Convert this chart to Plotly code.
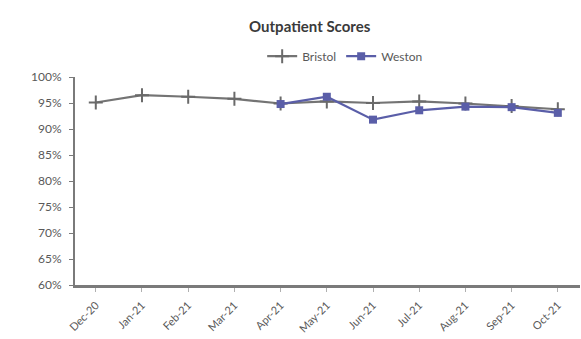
import plotly.graph_objects as go

# Monthly outpatient satisfaction scores (%)
months = ["Dec-20", "Jan-21", "Feb-21", "Mar-21", "Apr-21", "May-21",
          "Jun-21", "Jul-21", "Aug-21", "Sep-21", "Oct-21"]
bristol = [95.1, 96.5, 96.2, 95.8, 94.9, 95.3, 95.0, 95.3, 94.9, 94.4, 93.8]
weston = [None, None, None, None, 94.8, 96.2, 91.8, 93.6, 94.3, 94.2, 93.1]

y_ticks = [60, 65, 70, 75, 80, 85, 90, 95, 100]
y_tick_text = [f"{v}%" for v in y_ticks]

fig = go.Figure()
fig.add_trace(go.Scatter(
    x=months, y=bristol, name="Bristol", mode="lines+markers",
    line=dict(color="#747474", width=2.2),
    marker=dict(symbol="cross-thin-open", size=10, color="#6a6a6a",
                line=dict(width=2, color="#6a6a6a")),
))
fig.add_trace(go.Scatter(
    x=months, y=weston, name="Weston", mode="lines+markers",
    line=dict(color="#5a5ea8", width=2.2),
    marker=dict(symbol="square", size=8, color="#5a5ea8"),
))

fig.update_layout(
    width=581, height=339,
    margin=dict(l=75, r=1, t=77, b=54),
    paper_bgcolor="white", plot_bgcolor="white",
    font=dict(family="Lato, Open Sans, sans-serif", color="#595959", size=11),
    title=dict(text="<b>Outpatient Scores</b>", x=0.533, xanchor="center",
               y=0.92, yanchor="middle",
               font=dict(size=15, color="#3a3a3a")),
    legend=dict(orientation="h", x=0.535, xanchor="center", y=1.1, yanchor="middle",
                font=dict(size=12, color="#595959"), itemwidth=30,
                bgcolor="rgba(0,0,0,0)"),
    showlegend=True,
)
fig.update_xaxes(
    type="category", range=[-0.45, 10.48], automargin=False,
    showline=True, linecolor="#7a7a7a", linewidth=2.5,
    ticks="outside", ticklen=4, tickcolor="#b0b0b0",
    tickangle=-45, showgrid=False, zeroline=False,
    ticklabelstandoff=3,
    tickfont=dict(size=11, color="#595959"),
)
fig.update_yaxes(
    range=[60, 100], tickvals=y_ticks, ticktext=y_tick_text, automargin=False,
    showline=True, linecolor="#7a7a7a", linewidth=2,
    ticks="outside", ticklen=4, tickcolor="#7a7a7a",
    showgrid=False, zeroline=False,
    ticklabelstandoff=5,
    tickfont=dict(size=12, color="#595959"),
)

fig.write_html("out.html")
